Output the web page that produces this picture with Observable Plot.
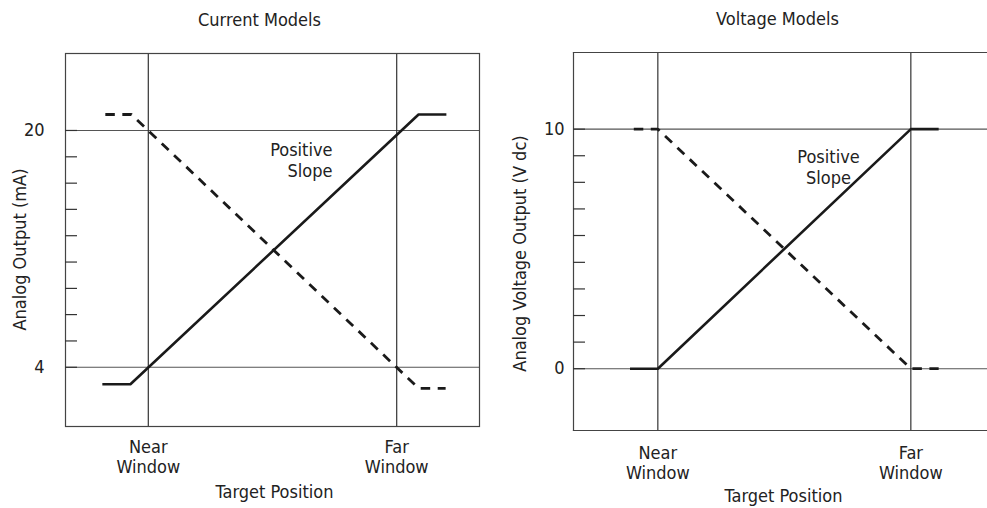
<!DOCTYPE html>
<html><head><meta charset="utf-8">
<script src="https://cdn.jsdelivr.net/npm/d3@7"></script>
<script src="https://cdn.jsdelivr.net/npm/@observablehq/plot@0.6"></script>
<style>
html,body{margin:0;padding:0;background:#fff;overflow:hidden}
#wrap{display:flex;width:987px;height:508px}
#wrap svg{display:block;flex:none}
</style></head><body><div id="wrap"></div>
<script>
// ---- shared x (target position) ----
const windowTicks = [0, 1];
const windowLabels = ["Near\nWindow", "Far\nWindow"];
const xAxisTitle = "Target Position";
const slopeLabel = "Positive\nSlope";

// ---- Current models (mA) ----
const currentTitle = "Current Models";
const currentYLabel = "Analog Output (mA)";
const currentMajorTicks = [4, 20];
const currentMajorLabels = ["4", "20"];
const currentMinorTicks = [4, 5.78, 7.56, 9.33, 11.11, 12.89, 14.67, 16.44, 18.22, 20];
const currentSolidX = [-0.185, -0.072, 1.088, 1.2];
const currentSolidY = [2.85, 2.85, 21.08, 21.08];
const currentDashedX = [-0.173, -0.068, 1.088, 1.197];
const currentDashedY = [21.08, 21.08, 2.58, 2.58];

// ---- Voltage models (V dc) ----
const voltageTitle = "Voltage Models";
const voltageYLabel = "Analog Voltage Output (V dc)";
const voltageMajorTicks = [0, 10];
const voltageMajorLabels = ["0", "10"];
const voltageMinorTicks = [0, 1.11, 2.22, 3.33, 4.44, 5.56, 6.67, 7.78, 8.89, 10];
const voltageSolidX = [-0.11, 0, 1, 1.11];
const voltageSolidY = [0, 0, 10, 10];
const voltageDashedX = [-0.095, 0, 1, 1.11];
const voltageDashedY = [10, 10, 0, 0];

const FONT = '"Liberation Sans Narrow", "DejaVu Sans Condensed", "Arial Narrow", sans-serif';
const INK = "#222";
const pts = (xs, ys) => xs.map((x, i) => ({x, y: ys[i]}));

function panel(o) {
  const frameParts = o.openRight
    ? [Plot.frame({anchor: "top", stroke: "#444", strokeWidth: 1.2}),
       Plot.frame({anchor: "bottom", stroke: "#444", strokeWidth: 1.2}),
       Plot.frame({anchor: "left", stroke: "#444", strokeWidth: 1.2})]
    : [Plot.frame({stroke: "#444", strokeWidth: 1.2})];
  return Plot.plot({
    width: o.width, height: 508,
    marginLeft: o.ml, marginRight: o.mr, marginTop: o.mt, marginBottom: o.mb,
    x: {domain: o.xDomain},
    y: {domain: o.yDomain},
    style: {fontFamily: FONT, fontSize: "18px", color: INK, background: "white", overflow: "visible"},
    marks: [
      Plot.ruleY(o.major, {stroke: "#555", strokeWidth: 1.1}),
      Plot.ruleX(windowTicks, {stroke: "#333", strokeWidth: 1.2}),
      ...frameParts,
      Plot.axisY(o.minor, {tickSize: -12, tickFormat: () => "", label: null, stroke: "#333", strokeWidth: 1.2}),
      Plot.axisY(o.major, {tickSize: 0, tickPadding: o.yPad, tickFormat: (d, i) => o.majorLabels[i], label: null, fontSize: 18}),
      Plot.axisX(windowTicks, {tickSize: 0, tickPadding: o.xPad, tickFormat: (d, i) => windowLabels[i], label: null, fontSize: 18, lineHeight: 1.12}),
      Plot.line(pts(o.solidX, o.solidY), {x: "x", y: "y", stroke: "#1a1a1a", strokeWidth: 2.6, strokeLinecap: "butt"}),
      Plot.line(pts(o.dashedX, o.dashedY), {x: "x", y: "y", stroke: "#1a1a1a", strokeWidth: 2.8, strokeDasharray: "9.5,7.5", strokeLinecap: "butt"}),
      Plot.text([o.title], {frameAnchor: "top", dx: o.titleDx, dy: -33, textAnchor: "middle", lineAnchor: "middle", fontSize: 18, fill: INK}),
      Plot.text([xAxisTitle], {frameAnchor: "bottom", dx: o.xLabelDx, dy: o.xLabelDy, textAnchor: "middle", lineAnchor: "top", fontSize: 18, fill: INK}),
      Plot.text([o.yLabel], {frameAnchor: "left", dx: o.yLabelDx, dy: o.yLabelDy, rotate: -90, textAnchor: "middle", lineAnchor: "middle", fontSize: 18, fill: INK}),
      Plot.text([slopeLabel], {frameAnchor: "top", dx: o.slopeDx, dy: o.slopeDy, textAnchor: o.slopeAnchor, lineAnchor: "top", lineHeight: 1.15, fontSize: 18, fill: INK})
    ]
  });
}

const wrap = document.getElementById("wrap");
wrap.append(panel({
  width: 490, ml: 65, mr: 11, mt: 53, mb: 82,
  xDomain: [-1/3, 4/3], yDomain: [0, 25.2],
  major: currentMajorTicks, majorLabels: currentMajorLabels, minor: currentMinorTicks,
  solidX: currentSolidX, solidY: currentSolidY, dashedX: currentDashedX, dashedY: currentDashedY,
  title: currentTitle, yLabel: currentYLabel,
  yPad: 21, xPad: 12, titleDx: -13, xLabelDx: 2, xLabelDy: 59,
  yLabelDx: -45, yLabelDy: 9.5,
  slopeDx: 60, slopeDy: 88, slopeAnchor: "end", openRight: false
}));
wrap.append(panel({
  width: 497, ml: 83, mr: 0, mt: 52, mb: 78,
  xDomain: [-1/3, 1.303], yDomain: [-2.58, 13.2],
  major: voltageMajorTicks, majorLabels: voltageMajorLabels, minor: voltageMinorTicks,
  solidX: voltageSolidX, solidY: voltageSolidY, dashedX: voltageDashedX, dashedY: voltageDashedY,
  title: voltageTitle, yLabel: voltageYLabel,
  yPad: 9, xPad: 14, titleDx: -3, xLabelDx: 3, xLabelDy: 59,
  yLabelDx: -53, yLabelDy: 12,
  slopeDx: 48, slopeDy: 96, slopeAnchor: "middle", openRight: true
}));
</script></body></html>
